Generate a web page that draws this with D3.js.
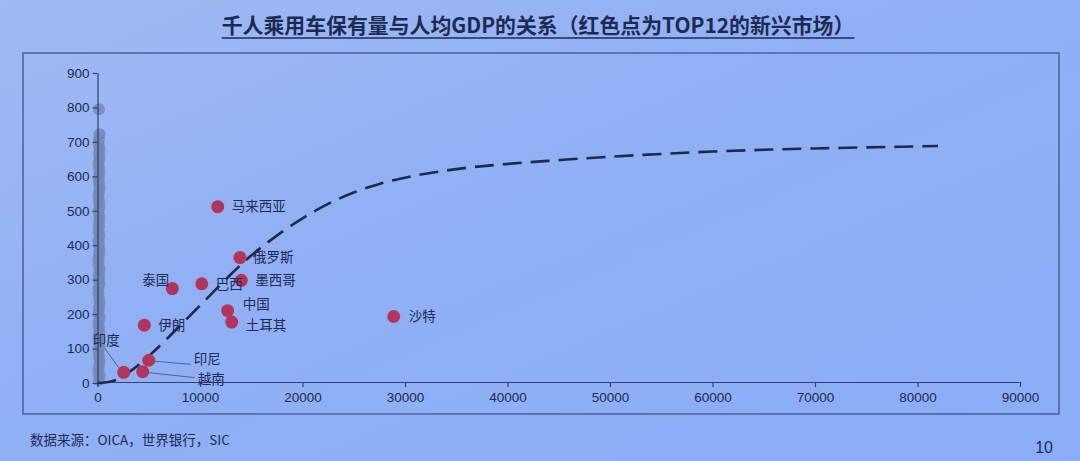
<!DOCTYPE html>
<html>
<head>
<meta charset="utf-8">
<script src="https://cdn.jsdelivr.net/npm/d3@7"></script>
<style>
  html, body { margin: 0; padding: 0; }
  body { width: 1080px; height: 461px; overflow: hidden; }
  svg { display: block; }
</style>
</head>
<body>
<svg id="chart" width="1080" height="461"></svg>
<script>
// ---------- data ----------
const titleText = "千人乘用车保有量与人均GDP的关系（红色点为TOP12的新兴市场）";
const sourceText = "数据来源：OICA，世界银行，SIC";
const pageNumber = "10";

const countries = ["马来西亚", "俄罗斯", "墨西哥", "巴西", "泰国", "中国", "土耳其", "伊朗", "沙特", "印度", "越南", "印尼"];
const gdpPerCapita = [11730, 13900, 14030, 10170, 7300, 12700, 13090, 4570, 28900, 2560, 4410, 5000];
const carsPer1000 = [512, 364, 298, 288, 274, 210, 177, 168, 193, 31, 33, 66];

// grey points squeezed against the y axis (other countries)
const greyX = [150, 200, 150, 100, 200, 150, 200, 100, 150, 200, 100, 150, 200, 150, 100, 150, 200, 100, 200, 150, 150, 100, 200, 100, 150, 200, 150, 100, 100, 200, 150, 150, 200, 100, 100, 150, 200, 150, 100, 200, 100, 150, 150, 100, 150, 200, 100];
const greyY = [795, 722, 708, 694, 680, 666, 652, 638, 624, 610, 596, 582, 568, 554, 540, 526, 512, 498, 484, 470, 456, 442, 428, 414, 400, 386, 372, 358, 344, 330, 316, 302, 288, 274, 260, 246, 232, 218, 204, 190, 176, 162, 148, 134, 120, 106, 92];
const greyY2 = [78, 64, 50, 36, 22, 8];

// fitted dashed curve
const curveX = [0, 1500, 3000, 5000, 7000, 9000, 11000, 13000, 15000, 17500, 20000, 22500, 25000, 27500, 30000, 35000, 40000, 45000, 50000, 55000, 60000, 65000, 70000, 75000, 82000];
const curveY = [0, 6, 30, 78, 135, 195, 255, 315, 370, 428, 478, 520, 553, 578, 596, 621, 636, 647, 657, 665, 672, 677, 681, 684, 688];

const xTicks = [0, 10000, 20000, 30000, 40000, 50000, 60000, 70000, 80000, 90000];
const yTicks = [0, 100, 200, 300, 400, 500, 600, 700, 800, 900];

// ---------- label placement (style) ----------
const labelOffset = {
  "马来西亚": [14, 0], "俄罗斯": [13, 0], "墨西哥": [14, 0], "巴西": [14, 0],
  "泰国": [-30, -8], "中国": [15, -6], "土耳其": [14, 3], "伊朗": [14, 0],
  "沙特": [15, 0], "印度": [-31, -32], "越南": [55, 8], "印尼": [45, -1]
};
const leaderLines = {
  "印度": [[-19, -24], [-3, -2]],
  "印尼": [[6, 1], [42, 4]],
  "越南": [[6, 1], [52, 6]]
};

// ---------- drawing ----------
const svg = d3.select("#chart");
const defs = svg.append("defs");
const grad = defs.append("linearGradient").attr("id", "bg").attr("x1", 0).attr("y1", 0).attr("x2", 1).attr("y2", 1);
grad.append("stop").attr("offset", "0%").attr("stop-color", "#a0baf4");
grad.append("stop").attr("offset", "40%").attr("stop-color", "#91b0f5");
grad.append("stop").attr("offset", "100%").attr("stop-color", "#8badf7");
svg.append("rect").attr("width", 1080).attr("height", 461).attr("fill", "url(#bg)");

const ink = "#1e2a52";

// title
const title = svg.append("text")
  .attr("x", 538).attr("y", 33)
  .attr("text-anchor", "middle")
  .attr("font-family", "'Noto Sans CJK SC', 'Noto Sans', sans-serif")
  .attr("font-weight", "bold")
  .attr("font-size", 20)
  .attr("fill", ink)
  .text(titleText);
let tw = title.node().getComputedTextLength();
title.attr("font-size", 20 * 633 / tw);
tw = title.node().getComputedTextLength();
svg.append("line").attr("x1", 538 - tw / 2).attr("x2", 538 + tw / 2)
  .attr("y1", 38).attr("y2", 38).attr("stroke", ink).attr("stroke-width", 1.6);

// frame
svg.append("rect").attr("x", 23).attr("y", 53).attr("width", 1036).attr("height", 361)
  .attr("fill", "none").attr("stroke", "#3d5590").attr("stroke-width", 1.3);

// scales
const x = d3.scaleLinear().domain([0, 90000]).range([97.5, 1020]);
const y = d3.scaleLinear().domain([0, 900]).range([383, 73]);

// grey points
const greyPts = greyY.map((v, i) => [greyX[i], v]).concat(greyY2.map((v, i) => [greyX[i], v]));
svg.append("g").selectAll("circle")
  .data(greyPts)
  .join("circle")
  .attr("cx", d => x(d[0]))
  .attr("cy", d => y(d[1]))
  .attr("r", 6)
  .attr("fill", "#7187b3")
  .attr("fill-opacity", 0.8);

// axes
const axisColor = "#34406a";
const xAxis = svg.append("g").attr("transform", `translate(0,${382})`)
  .call(d3.axisBottom(x).tickValues(xTicks).tickFormat(d3.format("d")).tickSize(5).tickSizeOuter(0).tickPadding(5));
const yAxis = svg.append("g").attr("transform", `translate(${97.5},0)`)
  .call(d3.axisLeft(y).tickValues(yTicks).tickFormat(d3.format("d")).tickSize(5).tickSizeOuter(0).tickPadding(3));
[xAxis, yAxis].forEach(a => {
  a.selectAll("path, line").attr("stroke", axisColor).attr("stroke-width", 1.2);
  a.selectAll("text").attr("fill", ink)
    .attr("font-family", "'Liberation Sans', Arial, sans-serif")
    .attr("font-size", 13.5);
});

// dashed curve
const line = d3.line().x(d => x(d[0])).y(d => y(d[1])).curve(d3.curveMonotoneX);
svg.append("path")
  .datum(curveX.map((v, i) => [v, curveY[i]]))
  .attr("d", line)
  .attr("fill", "none")
  .attr("stroke", "#1f2a44")
  .attr("stroke-width", 2.6)
  .attr("stroke-dasharray", "19,9");

// leader lines
const pts = countries.map((c, i) => ({ c, gx: gdpPerCapita[i], gy: carsPer1000[i] }));
svg.append("g").selectAll("line")
  .data(pts.filter(p => leaderLines[p.c]))
  .join("line")
  .attr("x1", p => x(p.gx) + leaderLines[p.c][0][0])
  .attr("y1", p => y(p.gy) + leaderLines[p.c][0][1])
  .attr("x2", p => x(p.gx) + leaderLines[p.c][1][0])
  .attr("y2", p => y(p.gy) + leaderLines[p.c][1][1])
  .attr("stroke", "#55648c")
  .attr("stroke-width", 1);

// red points
svg.append("g").selectAll("circle")
  .data(pts)
  .join("circle")
  .attr("cx", p => x(p.gx))
  .attr("cy", p => y(p.gy))
  .attr("r", 6.5)
  .attr("fill", "#b3355c");

// labels
svg.append("g").selectAll("text")
  .data(pts)
  .join("text")
  .attr("x", p => x(p.gx) + labelOffset[p.c][0])
  .attr("y", p => y(p.gy) + labelOffset[p.c][1])
  .attr("dy", "0.35em")
  .attr("font-family", "'Noto Sans CJK SC', sans-serif")
  .attr("font-size", 13.5)
  .attr("fill", ink)
  .text(p => p.c);

// footer
svg.append("text").attr("x", 30).attr("y", 445)
  .attr("font-family", "'Noto Sans CJK SC', sans-serif")
  .attr("font-size", 13.5).attr("fill", ink)
  .text(sourceText);
svg.append("text").attr("x", 1053).attr("y", 453)
  .attr("text-anchor", "end")
  .attr("font-family", "'Liberation Sans', Arial, sans-serif")
  .attr("font-size", 16).attr("fill", ink)
  .text(pageNumber);
</script>
</body>
</html>
